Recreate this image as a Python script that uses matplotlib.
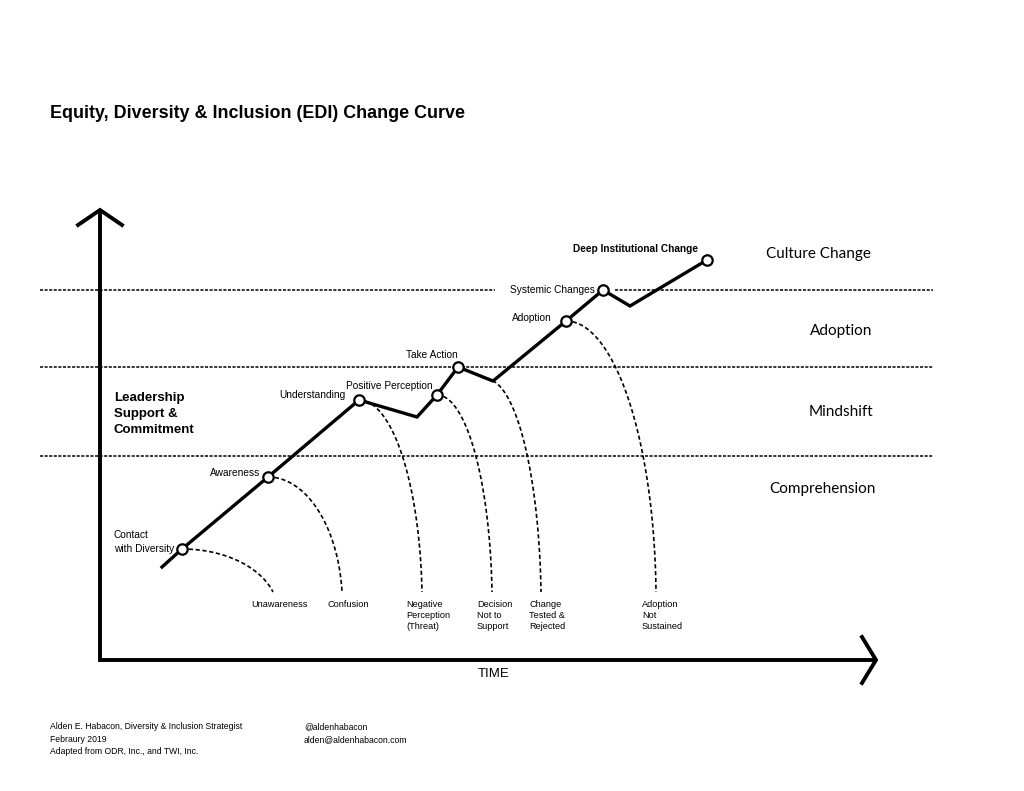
import numpy as np
import matplotlib
matplotlib.use("Agg")
import matplotlib.pyplot as plt

# diagram coordinates are in picture pixels (y grows downwards)
curve_x = [162, 182, 268, 359, 417, 437, 458, 493, 566, 603, 630, 707]
curve_y = [567, 549, 477, 400, 417, 395, 367, 381, 321, 290, 306, 260]
node_idx = [1, 2, 3, 5, 6, 8, 9, 11]

node_labels = ["Contact\nwith Diversity", "Awareness", "Understanding",
               "Positive Perception", "Take Action", "Adoption",
               "Systemic Changes", "Deep Institutional Change"]

# drop-off branches: start point, end point, how far round the ellipse
drop_start_x = [182, 268, 359, 437, 486, 566]
drop_start_y = [549, 477, 400, 395, 379, 321]
drop_end_x = [273, 342, 422, 492, 541, 656]
drop_end_y = [592, 592, 592, 592, 592, 592]
drop_sweep = [0.40, 0.47, 0.48, 0.48, 0.48, 0.49]
drop_labels = ["Unawareness", "Confusion", "Negative\nPerception\n(Threat)",
               "Decision\nNot to\nSupport", "Change\nTested &\nRejected",
               "Adoption\nNot\nSustained"]
drop_label_x = [251, 328, 406, 477, 529, 642]

level_y = [290, 367, 456]
level_names = ["Culture Change", "Adoption", "Mindshift", "Comprehension"]
level_name_x = [818, 841, 841, 822]
level_name_y = [254, 331, 412, 489]

fig = plt.figure(figsize=(10.24, 7.91), dpi=100)
ax = fig.add_axes([0, 0, 1, 1])
ax.set_xlim(0, 1024)
ax.set_ylim(791, 0)
ax.axis("off")

plt.rcParams["font.family"] = ["Liberation Sans", "DejaVu Sans"]

# level separators
for i, y in enumerate(level_y):
    if i == 0:
        ax.plot([40, 495], [y, y], color="k", lw=1.1, ls=(0, (2, 1)))
        ax.plot([615, 933], [y, y], color="k", lw=1.1, ls=(0, (2, 1)))
    else:
        ax.plot([40, 933], [y, y], color="k", lw=1.1, ls=(0, (2, 1)))

# axes arrows
ax.plot([100, 100, 876], [210, 660, 660], color="k", lw=2.8,
        solid_joinstyle="miter", solid_capstyle="butt")
ax.plot([78, 100, 122], [225, 210, 225], color="k", lw=2.8, solid_joinstyle="miter")
ax.plot([862, 876, 862], [637, 660, 683], color="k", lw=2.8, solid_joinstyle="miter")

# drop-off curves
for sx, sy, ex, ey, sw in zip(drop_start_x, drop_start_y, drop_end_x, drop_end_y, drop_sweep):
    t_end = sw * np.pi
    a = (ex - sx) / np.sin(t_end)
    b = (ey - sy) / (1 - np.cos(t_end))
    t = np.linspace(0, t_end, 60)
    ax.plot(sx + a * np.sin(t), sy + b * (1 - np.cos(t)), color="k", lw=1.2,
            ls=(0, (2.5, 1.6)))

# main curve
ax.plot(curve_x, curve_y, color="k", lw=2.4, solid_joinstyle="miter", zorder=3)
ax.plot([curve_x[i] for i in node_idx], [curve_y[i] for i in node_idx], "o",
        ms=7.5, mfc="white", mec="k", mew=1.6, zorder=4)

small = 7.3
ax.text(114, 542, node_labels[0], fontsize=small, ha="left", va="center", linespacing=1.4)
ax.text(260, 473, node_labels[1], fontsize=small, ha="right", va="center")
ax.text(345, 395, node_labels[2], fontsize=small, ha="right", va="center")
ax.text(346, 386, node_labels[3], fontsize=small, ha="left", va="center")
ax.text(432, 355, node_labels[4], fontsize=small, ha="center", va="center")
ax.text(552, 318, node_labels[5], fontsize=small, ha="right", va="center")
ax.text(595, 290, node_labels[6], fontsize=small, ha="right", va="center")
ax.text(573, 249, node_labels[7], fontsize=small, ha="left", va="center", weight="bold")

for lx, lab in zip(drop_label_x, drop_labels):
    ax.text(lx, 600, lab, fontsize=6.6, ha="left", va="top", linespacing=1.3)

for nx, ny, name in zip(level_name_x, level_name_y, level_names):
    ax.text(nx, ny, name, fontsize=11, ha="center", va="center", family=["Lato", "DejaVu Sans"])

ax.text(114, 414, "Leadership\nSupport &\nCommitment", fontsize=9.5, weight="bold",
        ha="left", va="center", linespacing=1.4)

ax.text(50, 113, "Equity, Diversity & Inclusion (EDI) Change Curve", fontsize=12.9,
        weight="bold", ha="left", va="center")
ax.text(494, 674, "TIME", fontsize=9.5, ha="center", va="center")

ax.text(50, 739, "Alden E. Habacon, Diversity & Inclusion Strategist\nFebraury 2019\n"
        "Adapted from ODR, Inc., and TWI, Inc.", fontsize=6.2, ha="left", va="center",
        linespacing=1.55)
ax.text(304, 733, "@aldenhabacon\nalden@aldenhabacon.com", fontsize=6.2, ha="left",
        va="center", linespacing=1.55)

fig.savefig("out.png", dpi=100)
